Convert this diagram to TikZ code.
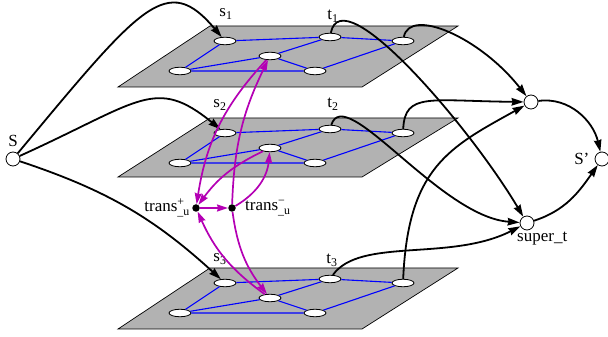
\documentclass[tikz,border=0pt]{standalone}
\usepackage{amsmath}
\usepackage{fontspec}
\setmainfont{Liberation Serif}
\usetikzlibrary{arrows.meta, positioning, shapes.geometric}
\definecolor{trmag}{RGB}{180,0,180}
\begin{document}
\begin{tikzpicture}[x=1pt, y=1pt,
  plane/.style={draw=black, line width=0.7pt, fill=black!30},
  vtx/.style={draw, ellipse, fill=white, line width=0.8pt,
              minimum width=22pt, minimum height=7.5pt, inner sep=0pt},
  term/.style={draw, circle, fill=white, line width=0.8pt,
               minimum size=14pt, inner sep=0pt},
  dot/.style={circle, fill=black, minimum size=7.5pt, inner sep=0pt},
  lbl/.style={font=\fontsize{17}{19}\selectfont, inner sep=1pt},
  gedge/.style={draw=blue, line width=1.1pt},
  flow/.style={line width=1.8pt, -{Stealth[length=12pt, width=7.5pt, inset=1pt]}},
  xflow/.style={draw=trmag, line width=1.7pt,
                -{Stealth[length=11pt, width=7pt, inset=1pt]}}
]
  \useasboundingbox (0,0) rectangle (608,337);

  % plane 1
  \draw[plane] (118,250) -- (362,250) -- (458,311) -- (210,311) -- cycle;
  \node[vtx] (s1) at (225,296) {};
  \node[vtx] (t1) at (330,300) {};
  \node[vtx] (r1) at (403,296) {};
  \node[vtx] (m1) at (270,281) {};
  \node[vtx] (a1) at (180,266) {};
  \node[vtx] (b1) at (315,266) {};
  \draw[gedge] (s1) -- (t1) (t1) -- (r1) (s1) -- (a1) (a1) -- (m1)
               (m1) -- (t1) (m1) -- (b1) (a1) -- (b1) (b1) -- (r1);
  \node[lbl] (s1l) at (226,323) {s\textsubscript{1}};
  \node[lbl] (t1l) at (333,321) {t\textsubscript{1}};

  % plane 2
  \draw[plane] (118,160) -- (362,160) -- (458,219) -- (210,219) -- cycle;
  \node[vtx] (s2) at (225,204) {};
  \node[vtx] (t2) at (330,208) {};
  \node[vtx] (r2) at (403,204) {};
  \node[vtx] (m2) at (270,189) {};
  \node[vtx] (a2) at (180,174) {};
  \node[vtx] (b2) at (315,174) {};
  \draw[gedge] (s2) -- (t2) (t2) -- (r2) (s2) -- (a2) (a2) -- (m2)
               (m2) -- (t2) (m2) -- (b2) (a2) -- (b2) (b2) -- (r2);
  \node[lbl] (s2l) at (220,232) {s\textsubscript{2}};
  \node[lbl] (t2l) at (333,233) {t\textsubscript{2}};

  % plane 3
  \draw[plane] (118,8) -- (362,8) -- (458,69) -- (210,69) -- cycle;
  \node[vtx] (s3) at (225,54) {};
  \node[vtx] (t3) at (330,58) {};
  \node[vtx] (r3) at (403,54) {};
  \node[vtx] (m3) at (270,39) {};
  \node[vtx] (a3) at (180,24) {};
  \node[vtx] (b3) at (315,24) {};
  \draw[gedge] (s3) -- (t3) (t3) -- (r3) (s3) -- (a3) (a3) -- (m3)
               (m3) -- (t3) (m3) -- (b3) (a3) -- (b3) (b3) -- (r3);
  \node[lbl] (s3l) at (220,78) {s\textsubscript{3}};
  \node[lbl] (t3l) at (332,77) {t\textsubscript{3}};

  % source, sinks
  \node[term, label={[lbl, label distance=4pt]above:S}] (S) at (13,178) {};
  \node[term] (sups) at (531,235) {};
  \node[term] (supt) at (527,114) {};
  \node[term, label={[lbl, label distance=4pt]left:S'}] (Sp) at (602,178) {};
  \node[lbl, anchor=north west] (suptl) at ([xshift=-11pt]supt.south) {super\_t};

  % transfer nodes
  \node[dot, label={[lbl, label distance=1pt]left:$\text{trans}^{\text{+}}_{\text{\_u}}$}] (tp) at (196,129) {};
  \node[dot, label={[lbl, label distance=8pt]right:$\text{trans}^{\text{−}}_{\text{\_u}}$}] (tm) at (232,129) {};

  % black flows
  \draw[flow] (S) .. controls (142,333) and (167,365) .. (s1);
  \draw[flow] (S) .. controls (141,236) and (155,261) .. (s2);
  \draw[flow] (S) to[bend left=12] (s3);
  \draw[flow] (t1) .. controls (342,360) and (470,210) .. (supt);
  \draw[flow] (r1) .. controls (410,330) and (480,300) .. (sups);
  \draw[flow] (t2) .. controls (345,255) and (440,120) .. (supt);
  \draw[flow] (r2) .. controls (405,245) and (430,236) .. (sups);
  \draw[flow] (t3) .. controls (360,100) and (450,75) .. (supt);
  \draw[flow] (r3) .. controls (408,170) and (450,190) .. (sups);
  \draw[flow] (sups) to[out=8, in=103] (Sp);
  \draw[flow] (supt) to[out=18, in=-125] (Sp);

  % magenta transfers
  \draw[xflow] (m1) to[bend right=17] (tp);
  \draw[xflow] (tm) to[bend left=12] (m1);
  \draw[xflow] (m2) to[bend right=14] (tp);
  \draw[xflow] (tm) to[bend right=27] (m2);
  \draw[xflow] (m3) to[bend left=15] (tp);
  \draw[xflow] (tm) to[bend right=15] (m3);
  \draw[xflow] (tp) -- (tm);
\end{tikzpicture}
\end{document}
